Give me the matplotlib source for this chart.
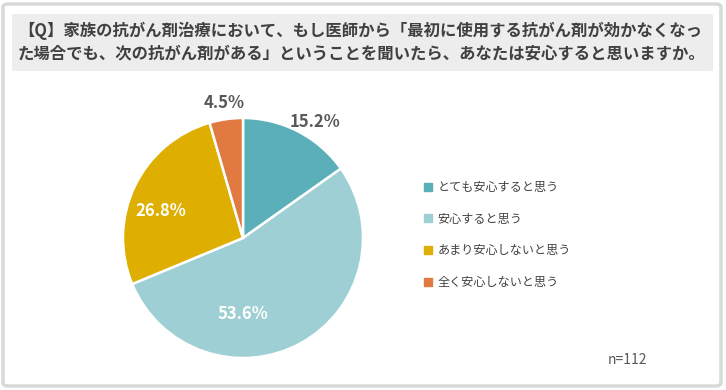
import matplotlib.pyplot as plt
import numpy as np
from matplotlib.patches import FancyBboxPatch
from matplotlib.lines import Line2D

plt.rcParams['font.family'] = ['Noto Sans CJK JP', 'DejaVu Sans']

title = ('【Q】家族の抗がん剤治療において、もし医師から「最初に使用する抗がん剤が効かなくなっ\n'
         'た場合でも、次の抗がん剤がある」ということを聞いたら、あなたは安心すると思いますか。')
categories = ['とても安心すると思う', '安心すると思う', 'あまり安心しないと思う', '全く安心しないと思う']
values = [15.2, 53.6, 26.8, 4.5]
colors = ['#5AAFB8', '#9DCFD4', '#DEAF00', '#E07A40']
n_label = 'n=112'

# label placement (radius in pie units, angle in degrees) and text colour
label_r = [1.14, 0.63, 0.72, 1.14]
label_ang = [58, -90, 162, 98]
label_col = ['#595959', 'white', 'white', '#595959']

W, H = 726, 390
fig = plt.figure(figsize=(W / 100, H / 100), dpi=100)

# outer frame
frame = FancyBboxPatch((3 / W, 4 / H), 718 / W, 382 / H,
                       boxstyle='round,pad=0,rounding_size=0.008',
                       transform=fig.transFigure, facecolor='white',
                       edgecolor='#D9D9D9', linewidth=2.5, zorder=-10)
fig.patches.append(frame)
# title box
tbox = FancyBboxPatch((12 / W, (H - 71) / H), 701 / W, 57 / H,
                      boxstyle='round,pad=0,rounding_size=0.004',
                      transform=fig.transFigure, facecolor='#EDEDED',
                      edgecolor='none', zorder=-9)
fig.patches.append(tbox)
fig.text(18 / W, (H - 42) / H, title, fontsize=11.8, fontweight='bold',
         color='#404040', va='center', ha='left', linespacing=1.35)

ax = fig.add_axes([123 / W, 32 / H, 240 / W, 240 / H])
ax.pie(values, colors=colors, startangle=90, counterclock=False,
       wedgeprops=dict(edgecolor='white', linewidth=1.8))
ax.set_xlim(-1, 1)
ax.set_ylim(-1, 1)
ax.set_aspect('equal')

for v, r, a, c in zip(values, label_r, label_ang, label_col):
    t = np.deg2rad(a)
    ax.text(r * np.cos(t), r * np.sin(t), f'{v:.1f}%', ha='center', va='center',
            fontsize=12, fontweight='bold', color=c, clip_on=False)

handles = [Line2D([], [], marker='s', linestyle='none', markersize=6,
                  markerfacecolor=c, markeredgecolor=c) for c in colors]
fig.legend(handles, categories, loc='center left',
           bbox_to_anchor=(412 / W, (H - 235) / H), frameon=False,
           fontsize=8.7, labelcolor='#404040', labelspacing=1.55,
           handlelength=0.8, handletextpad=0.4)

fig.text(608 / W, (H - 360) / H, n_label, fontsize=10, color='#595959',
         va='center', ha='left')

fig.savefig('out.png', dpi=100)
